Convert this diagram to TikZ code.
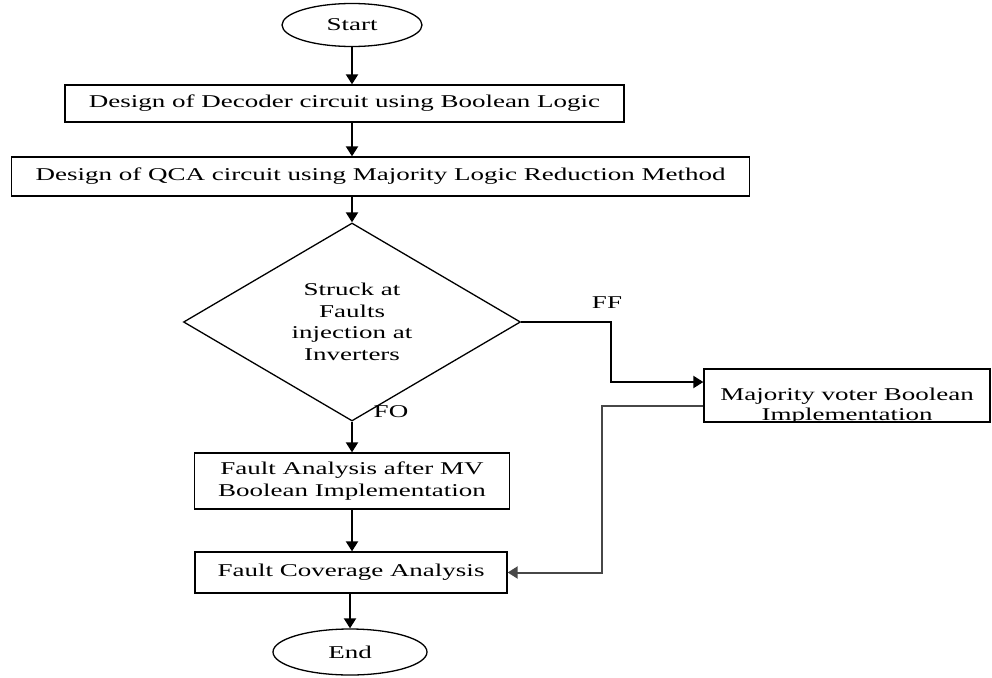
\documentclass[tikz,border=0pt]{standalone}
\usepackage{fontspec}
\setmainfont{Liberation Serif}[FakeStretch=1.5]
\usetikzlibrary{shapes.geometric,arrows.meta}
\begin{document}
\begin{tikzpicture}[x=1pt,y=-1pt,
  font=\fontsize{18}{21.5}\selectfont,
  box/.style={draw,line width=1.3pt,rectangle,inner sep=0pt,align=center},
  oval/.style={draw,line width=1.3pt,ellipse,inner sep=0pt},
  arr/.style={line width=2pt,-{Triangle[width=12pt,length=10pt]}},
  ret/.style={arr,draw=black!72},
  lbl/.style={inner sep=0pt}]
\useasboundingbox (0,0) rectangle (992,677);
\node[oval,minimum width=140pt,minimum height=43pt] (start) at (352,25) {Start};
\node[box,minimum width=559pt,minimum height=37pt] (b1) at (344.5,103.5) {Design of Decoder circuit using Boolean Logic};
\node[box,anchor=west,inner xsep=24pt,minimum height=39pt] (b2) at (11,176.5) {Design of QCA circuit using Majority Logic Reduction Method};
\node[draw,line width=1.3pt,diamond,aspect=1.7,minimum width=337pt,minimum height=198pt,inner sep=0pt,align=center] (dia) at (352,322) {Struck at\\Faults\\injection at\\Inverters};
\node[box,minimum width=286pt,minimum height=53pt] (mv) at (847,395.5) {};
\begin{scope}
  \clip (705,370) rectangle (989,421);
  \node[lbl,anchor=base] (mv1) at (847,400) {Majority voter Boolean};
  \node[lbl,anchor=base] (mv2) at (847,420.5) {Implementation};
\end{scope}
\node[box,minimum width=315pt,minimum height=56pt] (b3) at (352,481) {Fault Analysis after MV\\Boolean Implementation};
\node[box,minimum width=312pt,minimum height=41pt] (b4) at (351,572.5) {Fault Coverage Analysis};
\node[oval,minimum width=154pt,minimum height=46pt] (end) at (350,652) {End};
\node[lbl] (ff) at (607,303) {FF};
\node[lbl] (fo) at (391,412) {FO};
\draw[arr] (start.south) -- (start.south |- b1.north);
\draw[arr] (start.south |- b1.south) -- (start.south |- b2.north);
\draw[arr] (start.south |- b2.south) -- (dia.north);
\draw[arr] (dia.south) -- (dia.south |- b3.north);
\draw[arr] (b3.south) -- (b3.south |- b4.north);
\draw[arr] (b4.south -| end.north) -- (end.north);
\coordinate (ffk) at (611,382);
\draw[arr] (dia.east) -| (ffk) -- (ffk -| mv.west);
\coordinate (rk) at (602,406);
\draw[ret] (rk -| mv.west) -- (rk) |- (b4.east);
\end{tikzpicture}
\end{document}
